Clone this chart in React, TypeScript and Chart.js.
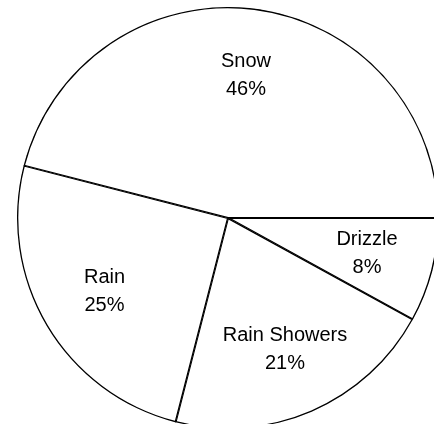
import React, { useEffect, useRef } from "react";
import { Chart, registerables } from "chart.js";

Chart.register(...registerables);

const categories = ["Drizzle", "Rain Showers", "Rain", "Snow"];
const values = [8, 21, 25, 46];

const labelPlugin = {
  id: "sliceLabels",
  afterDatasetsDraw(chart: any) {
    const ctx = chart.ctx;
    const meta = chart.getDatasetMeta(0);
    const total = values.reduce((a, b) => a + b, 0);
    ctx.save();
    ctx.fillStyle = "#000";
    ctx.textAlign = "center";
    ctx.textBaseline = "middle";
    ctx.font = "20px 'Liberation Sans', Arial, sans-serif";
    meta.data.forEach((arc: any, i: number) => {
      const p = arc.getProps(["x", "y", "startAngle", "endAngle", "outerRadius"], true);
      const mid = (p.startAngle + p.endAngle) / 2;
      const r = p.outerRadius * 0.68;
      const cx = p.x + Math.cos(mid) * r;
      const cy = p.y + Math.sin(mid) * r;
      const pct = Math.round((values[i] / total) * 100) + "%";
      ctx.fillText(categories[i], cx, cy - 14);
      ctx.fillText(pct, cx, cy + 14);
    });
    ctx.restore();
  },
};

export default function App() {
  const ref = useRef<HTMLCanvasElement | null>(null);
  useEffect(() => {
    if (!ref.current) return;
    const chart = new Chart(ref.current, {
      type: "pie",
      data: {
        labels: categories,
        datasets: [
          {
            data: values,
            backgroundColor: "#ffffff",
            borderColor: "#000000",
            borderWidth: 1,
            borderAlign: "inner" as any,
          },
        ],
      },
      options: {
        animation: false,
        responsive: false,
        rotation: 90,
        layout: { padding: 0 },
        plugins: {
          legend: { display: false },
          tooltip: { enabled: false },
        },
      },
      plugins: [labelPlugin],
    });
    return () => chart.destroy();
  }, []);
  return (
    <div style={{ position: "absolute", left: 17, top: 7, width: 422, height: 422 }}>
      <canvas ref={ref} width={422} height={422} />
    </div>
  );
}
